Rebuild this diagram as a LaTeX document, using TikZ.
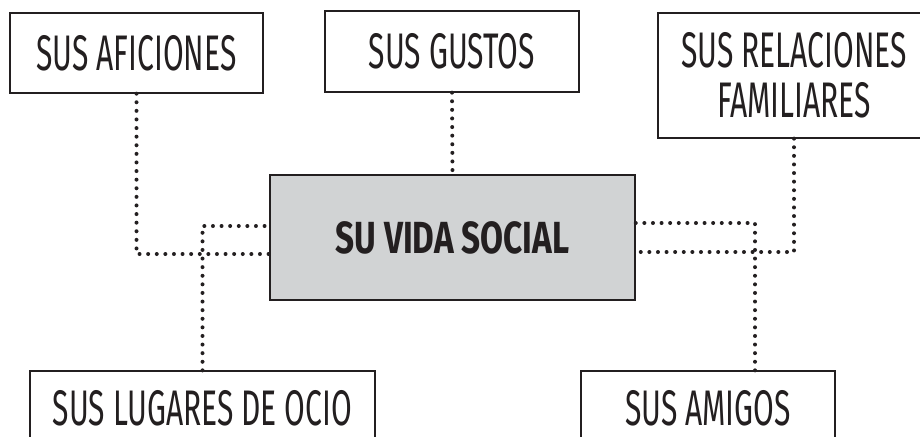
\documentclass[tikz,border=0pt]{standalone}
\usepackage{fontspec}
\setmainfont{Fira Sans}[FakeStretch=0.6, BoldFeatures={FakeStretch=0.74}]
\definecolor{ink}{HTML}{231F20}
\definecolor{boxgray}{HTML}{D1D3D4}
\tikzset{
  topic/.style={draw=ink, line width=1.3pt, fill=white, text=ink, align=center,
    font=\fontsize{50}{50}\selectfont, inner sep=0pt},
  core/.style={topic, fill=boxgray, font=\fontsize{45}{50}\selectfont\bfseries},
  lowbox/.style={topic, minimum height=66.5pt, text height=43pt, text depth=0pt},
  dotline/.style={ink, line width=4pt, line cap=round, dash pattern=on 0pt off 8.6pt}
}
\begin{document}
\begin{tikzpicture}[x=1pt,y=-1pt]
        \useasboundingbox (0,0) rectangle (920,436);

        % Draw the central box
        \node[core, minimum width=365pt, minimum height=125pt] (soc) at (452.5,237.5) {SU VIDA SOCIAL};

        % Draw the outer boxes
        \node[topic, minimum width=253pt, minimum height=80pt] (afi) at (136.5,53) {SUS AFICIONES};
        \node[topic, minimum width=254pt, minimum height=81pt] (gus) at (452,51.5) {SUS GUSTOS};
        \node[topic, minimum width=272pt, minimum height=125pt] (rel) at (794,75.5) {SUS RELACIONES\\FAMILIARES};
        \node[lowbox, minimum width=345pt] (lug) at (202.5,404.25) {SUS LUGARES DE OCIO};
        \node[lowbox, minimum width=254pt] (ami) at (708,404.25) {SUS AMIGOS};

        % Dotted links to the central box
        \draw[dotline] (gus.south) -- (soc.north);
        \draw[dotline] (afi.south) |- ([yshift=-16.5pt]soc.west);
        \draw[dotline] (lug.north) |- ([yshift=11.5pt]soc.west);
        \draw[dotline] (rel.south) |- ([yshift=-14.5pt]soc.east);
        \draw[dotline] ([xshift=47pt]ami.north) |- ([yshift=14.5pt]soc.east);
    \end{tikzpicture}
\end{document}
